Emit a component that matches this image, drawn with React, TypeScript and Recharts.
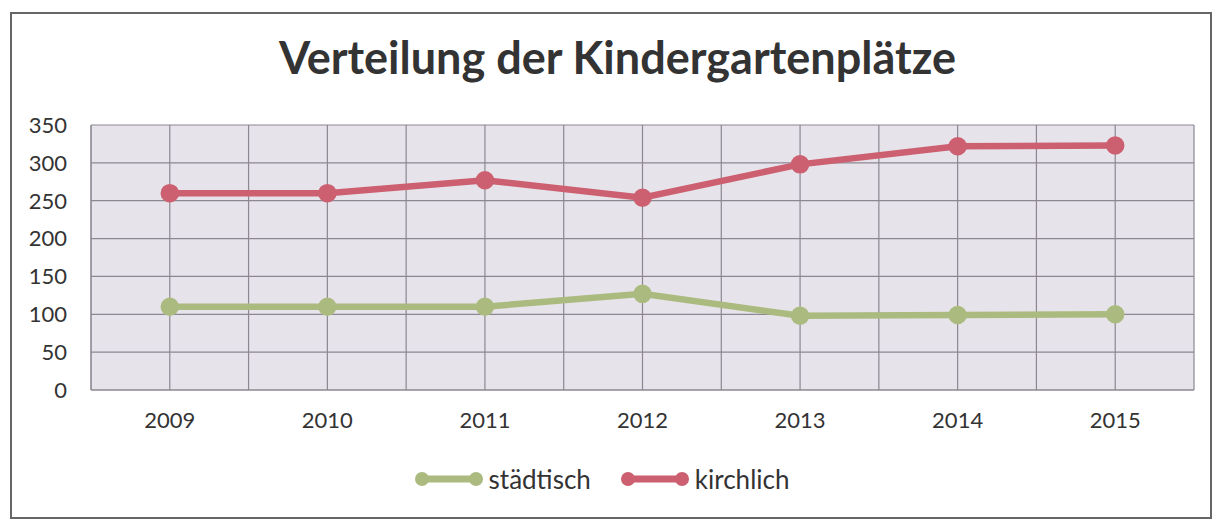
import React from "react";
import { LineChart, Line, XAxis, YAxis, CartesianGrid, Legend } from "recharts";

const years = [2009, 2010, 2011, 2012, 2013, 2014, 2015];
const staedtisch = [110, 110, 110, 127, 98, 99, 100];
const kirchlich = [260, 260, 277, 254, 298, 322, 323];
const yTicks = [0, 50, 100, 150, 200, 250, 300, 350];
const gridTicks = [2008.5, 2009, 2009.5, 2010, 2010.5, 2011, 2011.5, 2012, 2012.5, 2013, 2013.5, 2014, 2014.5, 2015, 2015.5];
const legendOrder = ["städtisch", "kirchlich"];

const data = years.map((y, i) => ({ year: y, "städtisch": staedtisch[i], kirchlich: kirchlich[i] }));

const GREEN = "#abbb80";
const RED = "#cc5f70";
const FONT = "Lato, 'Open Sans', sans-serif";

const LegendContent = (props: any) => {
  const items = [...(props.payload || [])].sort(
    (a: any, b: any) => legendOrder.indexOf(a.value) - legendOrder.indexOf(b.value)
  );
  return (
    <div style={{ display: "flex", justifyContent: "center", gap: 30, fontFamily: FONT, fontSize: 26, color: "#333", paddingLeft: 10 }}>
      {items.map((p: any) => (
        <div key={p.value} style={{ display: "flex", alignItems: "center", gap: 6 }}>
          <svg width={68} height={16}>
            <line x1={7} y1={8} x2={61} y2={8} stroke={p.color} strokeWidth={7} />
            <circle cx={7} cy={8} r={7} fill={p.color} />
            <circle cx={61} cy={8} r={7} fill={p.color} />
          </svg>
          <span>{p.value}</span>
        </div>
      ))}
    </div>
  );
};

export default function App() {
  return (
    <div style={{ position: "absolute", left: 0, top: 0, width: 1219, height: 520, background: "#fff", overflow: "hidden" }}>
      <div style={{ position: "absolute", left: 10, top: 12, width: 1198, height: 503, border: "2px solid #666" }} />
      <div style={{ position: "absolute", left: 0, top: 30, width: 1235, textAlign: "center", fontFamily: FONT, fontWeight: 700, fontSize: 45, color: "#333" }}>
        Verteilung der Kindergartenplätze
      </div>
      <div style={{ position: "absolute", left: 0, top: 0 }}>
        <LineChart width={1219} height={520} data={data} margin={{ top: 125, right: 25, bottom: 46, left: 0 }}>
          <CartesianGrid fill="#e7e3ea" stroke="#8c8792" strokeWidth={1.2} />
          <XAxis
            dataKey="year"
            type="number"
            domain={[2008.5, 2015.5]}
            ticks={gridTicks}
            tickFormatter={(v: number) => (Number.isInteger(v) ? String(v) : "")}
            axisLine={{ stroke: "#8c8792" }}
            tickLine={false}
            tickSize={0}
            tickMargin={22}
            height={52}
            tick={{ fill: "#333", fontSize: 22, fontFamily: FONT }}
          />
          <YAxis
            domain={[0, 350]}
            ticks={yTicks}
            axisLine={{ stroke: "#8c8792" }}
            tickLine={false}
            tickSize={0}
            tickMargin={24}
            width={91}
            tick={{ fill: "#333", fontSize: 22, fontFamily: FONT }}
          />
          <Legend verticalAlign="bottom" content={<LegendContent />} wrapperStyle={{ bottom: 25 }} />
          <Line dataKey="städtisch" stroke={GREEN} strokeWidth={6.5} dot={{ r: 6, fill: GREEN, stroke: GREEN }} isAnimationActive={false} />
          <Line dataKey="kirchlich" stroke={RED} strokeWidth={6.5} dot={{ r: 6, fill: RED, stroke: RED }} isAnimationActive={false} />
        </LineChart>
      </div>
    </div>
  );
}
